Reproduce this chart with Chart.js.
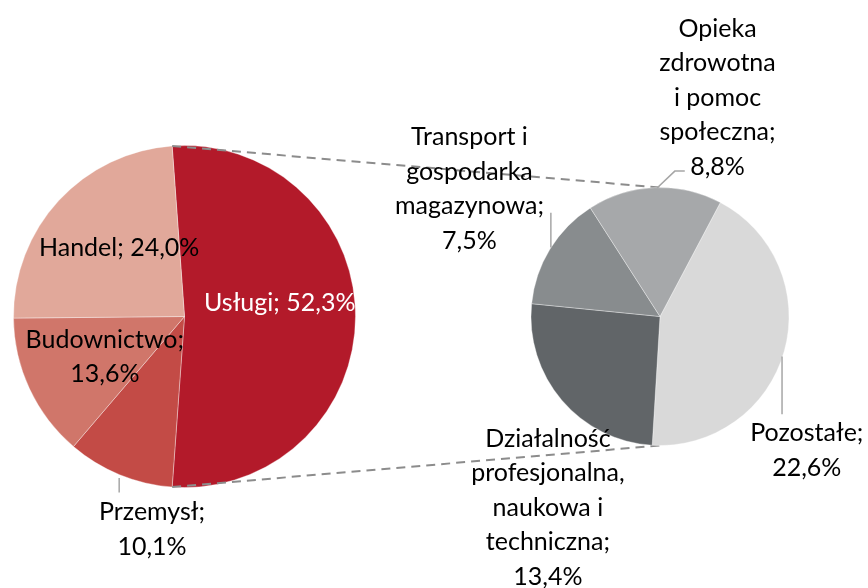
<!DOCTYPE html>
<html>
<head>
<meta charset="utf-8">
<script src="https://cdn.jsdelivr.net/npm/chart.js@4.4.0/dist/chart.umd.min.js"></script>
<style>
  html, body { margin: 0; padding: 0; background: #fff; }
  #wrap { position: relative; width: 868px; height: 588px; }
  #wrap canvas { position: absolute; left: 0; top: 0; }
</style>
</head>
<body>
<div id="wrap">
  <canvas id="mainPie" width="868" height="588"></canvas>
  <canvas id="subPie" width="868" height="588"></canvas>
</div>
<script>
// main pie (share of all) - Usługi is split out into the second pie
const mainLabels = ['Usługi', 'Przemysł', 'Budownictwo', 'Handel'];
const mainValues = [52.3, 10.1, 13.6, 24.0];
const mainColors = ['#b31a2a', '#c34b46', '#d0766a', '#e1a89a'];

// second pie - breakdown of Usługi (values are % of total)
const subLabels = ['Pozostałe', 'Działalność profesjonalna, naukowa i techniczna',
  'Transport i gospodarka magazynowa', 'Opieka zdrowotna i pomoc społeczna'];
const subValues = [22.6, 13.4, 7.5, 8.8];
const subColors = ['#d9d9d9', '#616568', '#888c8e', '#a6a8aa'];

// data label text, wrapped like in the original
const mainText = [['Usługi; 52,3%'], ['Przemysł;', '10,1%'], ['Budownictwo;', '13,6%'], ['Handel; 24,0%']];
const subText = [['Pozostałe;', '22,6%'],
  ['Działalność', 'profesjonalna,', 'naukowa i', 'techniczna;', '13,4%'],
  ['Transport i', 'gospodarka', 'magazynowa;', '7,5%'],
  ['Opieka', 'zdrowotna', 'i pomoc', 'społeczna;', '8,8%']];

// label placement relative to pie centre, in units of the radius
const mainPlace = [{x: 0.557, y: -0.079, color: '#fff'}, {x: -0.19, y: 1.245}, {x: -0.466, y: 0.236}, {x: -0.382, y: -0.399}];
const mainLeaders = [null, [[-0.382, 0.945], [-0.382, 1.029]], null, null];
const subPlace = [{x: 1.138, y: 1.038}, {x: -0.869, y: 1.481}, {x: -1.477, y: -0.988}, {x: 0.446, y: -1.696}];
const subLeaders = [[[0.946, 0.311], [0.946, 0.758]], null,
  [[-0.846, -0.535], [-0.846, -0.804]],
  [[-0.023, -0.996], [0.115, -1.127], [0.192, -1.127]]];

const FONT = '25px Lato, "Liberation Sans", sans-serif';
const LINE_H = 34.5;

let makeLabels = function(id, text, place, leaders) {
  return {
    id: id,
    afterDatasetsDraw(chart) {
      const ctx = chart.ctx, arc = chart.getDatasetMeta(0).data[0];
      const cx = arc.x, cy = arc.y, r = arc.outerRadius;
      ctx.save();
      ctx.strokeStyle = '#a6a6a6';
      ctx.lineWidth = 1.5;
      leaders.forEach(function(pts) {
        if (!pts) return;
        ctx.beginPath();
        pts.forEach(function(p, i) {
          if (i == 0) ctx.moveTo(cx + p[0] * r, cy + p[1] * r);
          else ctx.lineTo(cx + p[0] * r, cy + p[1] * r);
        });
        ctx.stroke();
      });
      ctx.font = FONT;
      ctx.textAlign = 'center';
      ctx.textBaseline = 'middle';
      text.forEach(function(lines, i) {
        const p = place[i];
        const x = cx + p.x * r, y0 = cy + p.y * r - (lines.length - 1) * LINE_H / 2;
        ctx.fillStyle = p.color || '#000';
        lines.forEach(function(t, j) { ctx.fillText(t, x, y0 + j * LINE_H); });
      });
      ctx.restore();
    }
  };
};

let pieOptions = function(rotation, padding) {
  return {
    responsive: false,
    animation: false,
    events: [],
    rotation: rotation,
    layout: { padding: padding },
    plugins: { legend: { display: false }, tooltip: { enabled: false } }
  };
};

let total = mainValues.reduce((a, b) => a + b, 0);

const mainChart = new Chart('mainPie', {
  type: 'pie',
  data: {
    labels: mainLabels,
    datasets: [{ data: mainValues, backgroundColor: mainColors, borderColor: 'rgba(255,255,255,0.35)', borderWidth: 1, hoverOffset: 0 }]
  },
  // split slice centred on the right side, like Excel's pie of pie
  options: pieOptions(90 - mainValues[0] / total * 180, { left: 13, right: 512, top: 145, bottom: 100 }),
  plugins: [makeLabels('mainLabels', mainText, mainPlace, mainLeaders)]
});

// dashed connectors from the split slice to the second pie
const connectors = {
  id: 'connectors',
  beforeDatasetsDraw(chart) {
    const m = mainChart.getDatasetMeta(0).data[0];
    const s = chart.getDatasetMeta(0).data[0];
    const a1 = m.startAngle, a2 = m.endAngle;
    const ctx = chart.ctx;
    ctx.save();
    ctx.strokeStyle = '#8c8c8c';
    ctx.lineWidth = 2;
    ctx.setLineDash([9, 6]);
    ctx.beginPath();
    ctx.moveTo(m.x + m.outerRadius * Math.cos(a1), m.y + m.outerRadius * Math.sin(a1));
    ctx.lineTo(s.x, s.y - s.outerRadius);
    ctx.moveTo(m.x + m.outerRadius * Math.cos(a2), m.y + m.outerRadius * Math.sin(a2));
    ctx.lineTo(s.x, s.y + s.outerRadius);
    ctx.stroke();
    ctx.restore();
  }
};

const subChart = new Chart('subPie', {
  type: 'pie',
  data: {
    labels: subLabels,
    datasets: [{ data: subValues, backgroundColor: subColors, borderColor: 'rgba(255,255,255,0.35)', borderWidth: 1, hoverOffset: 0 }]
  },
  options: pieOptions(27.9, { left: 530, right: 78, top: 187, bottom: 142 }),
  plugins: [connectors, makeLabels('subLabels', subText, subPlace, subLeaders)]
});
</script>
</body>
</html>
